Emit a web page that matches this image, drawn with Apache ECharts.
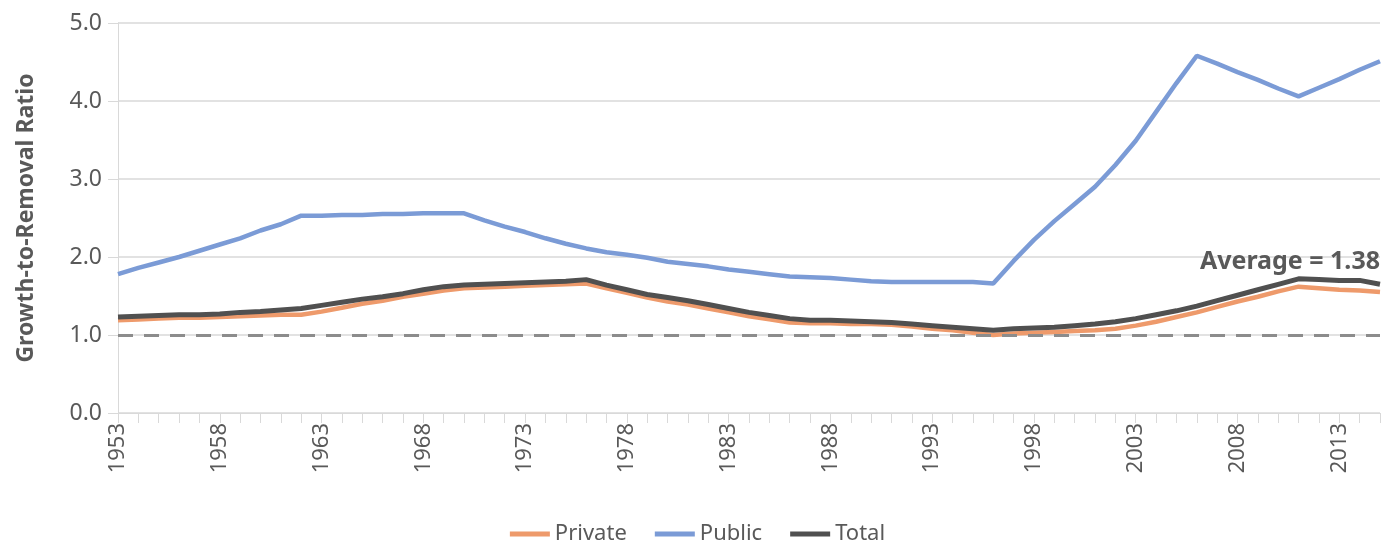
<!DOCTYPE html>
<html>
<head>
<meta charset="utf-8">
<script src="https://cdn.jsdelivr.net/npm/echarts@6/dist/echarts.min.js"></script>
<style>
  html, body { margin: 0; padding: 0; background: #fff; }
  #chart { width: 1395px; height: 550px; }
</style>
</head>
<body>
<div id="chart"></div>
<script>
var years = [];
for (var y = 1953; y <= 2015; y++) years.push(String(y));

var yTicks = [0, 1, 2, 3, 4, 5];

var privateVals = [
  1.19, 1.20, 1.21, 1.22, 1.22, 1.23, 1.24, 1.25, 1.26, 1.26,
  1.30, 1.35, 1.40, 1.44, 1.49, 1.53, 1.57, 1.60, 1.61, 1.62,
  1.63, 1.64, 1.65, 1.66, 1.60, 1.54, 1.48, 1.43, 1.39, 1.34,
  1.29, 1.24, 1.20, 1.16, 1.15, 1.15, 1.14, 1.14, 1.13, 1.11,
  1.08, 1.06, 1.03, 1.00, 1.02, 1.03, 1.04, 1.05, 1.06, 1.08,
  1.12, 1.17, 1.23, 1.29, 1.36, 1.43, 1.49, 1.56, 1.62, 1.60,
  1.58, 1.57, 1.55
];

var publicVals = [
  1.78, 1.86, 1.93, 2.00, 2.08, 2.16, 2.24, 2.34, 2.42, 2.53,
  2.53, 2.54, 2.54, 2.55, 2.55, 2.56, 2.56, 2.56, 2.47, 2.39,
  2.32, 2.24, 2.17, 2.11, 2.06, 2.03, 1.99, 1.94, 1.91, 1.88,
  1.84, 1.81, 1.78, 1.75, 1.74, 1.73, 1.71, 1.69, 1.68, 1.68,
  1.68, 1.68, 1.68, 1.66, 1.95, 2.22, 2.46, 2.68, 2.90, 3.18,
  3.49, 3.86, 4.23, 4.58, 4.48, 4.37, 4.27, 4.16, 4.06, 4.17,
  4.28, 4.40, 4.51
];

var totalVals = [
  1.23, 1.24, 1.25, 1.26, 1.26, 1.27, 1.29, 1.30, 1.32, 1.34,
  1.38, 1.42, 1.46, 1.49, 1.53, 1.58, 1.62, 1.64, 1.65, 1.66,
  1.67, 1.68, 1.69, 1.71, 1.64, 1.58, 1.52, 1.48, 1.44, 1.39,
  1.34, 1.29, 1.25, 1.21, 1.19, 1.19, 1.18, 1.17, 1.16, 1.14,
  1.12, 1.10, 1.08, 1.06, 1.08, 1.09, 1.10, 1.12, 1.14, 1.17,
  1.21, 1.26, 1.31, 1.37, 1.44, 1.51, 1.58, 1.65, 1.72, 1.71,
  1.70, 1.70, 1.65
];

var refLine = 1.0;
var avgText = "Average = 1.38";

var FONT = "'Noto Sans', 'Open Sans', sans-serif";
var GREY = "#595959";
var GRID = "#d9d9d9";

var myChart = echarts.init(document.getElementById("chart"));
myChart.setOption({
  animation: false,
  textStyle: { fontFamily: FONT },
  grid: { left: 118, right: 15, top: 23, bottom: 137 },
  legend: {
    bottom: 0,
    left: "center",
    itemWidth: 40,
    itemHeight: 5,
    itemGap: 28,
    icon: "rect",
    textStyle: { color: GREY, fontSize: 22, fontFamily: FONT },
    data: ["Private", "Public", "Total"]
  },
  xAxis: {
    type: "category",
    data: years,
    boundaryGap: false,
    axisLine: { lineStyle: { color: GRID, width: 1 } },
    axisTick: { show: true, interval: 0, length: 10, lineStyle: { color: GRID } },
    axisLabel: {
      interval: 4,
      rotate: 90,
      color: GREY,
      fontSize: 22,
      margin: 10,
      fontFamily: FONT
    },
    splitLine: { show: false }
  },
  yAxis: {
    type: "value",
    min: yTicks[0],
    max: yTicks[yTicks.length - 1],
    interval: 1,
    name: "Growth-to-Removal Ratio",
    nameLocation: "middle",
    nameGap: 80,
    nameTextStyle: { color: GREY, fontSize: 23, fontWeight: "bold", fontFamily: FONT },
    axisLine: { show: true, lineStyle: { color: GRID } },
    axisTick: { show: true, length: 10, lineStyle: { color: GRID } },
    axisLabel: {
      color: GREY,
      fontSize: 23,
      margin: 16,
      fontFamily: FONT,
      formatter: function (v) { return v.toFixed(1); }
    },
    splitLine: { lineStyle: { color: GRID, width: 1.5 } }
  },
  series: [
    {
      name: "Private",
      type: "line",
      data: privateVals,
      symbol: "none",
      itemStyle: { color: "#ee9a6b" },
      lineStyle: { color: "#ee9a6b", width: 4.5 },
      markLine: {
        silent: true,
        symbol: "none",
        label: { show: false },
        lineStyle: { color: "#8c8c8c", type: [15, 11], width: 3 },
        data: [{ yAxis: refLine }]
      },
      z: 3
    },
    {
      name: "Public",
      type: "line",
      data: publicVals,
      symbol: "none",
      itemStyle: { color: "#7b9bd6" },
      lineStyle: { color: "#7b9bd6", width: 4.5 },
      z: 3
    },
    {
      name: "Total",
      type: "line",
      data: totalVals,
      symbol: "none",
      itemStyle: { color: "#505050" },
      lineStyle: { color: "#505050", width: 5 },
      z: 4
    }
  ],
  graphic: [
    {
      type: "text",
      right: 15,
      top: 249,
      z: 10,
      style: {
        text: avgText,
        fill: GREY,
        font: "bold 25px " + FONT
      }
    }
  ]
});
</script>
</body>
</html>
